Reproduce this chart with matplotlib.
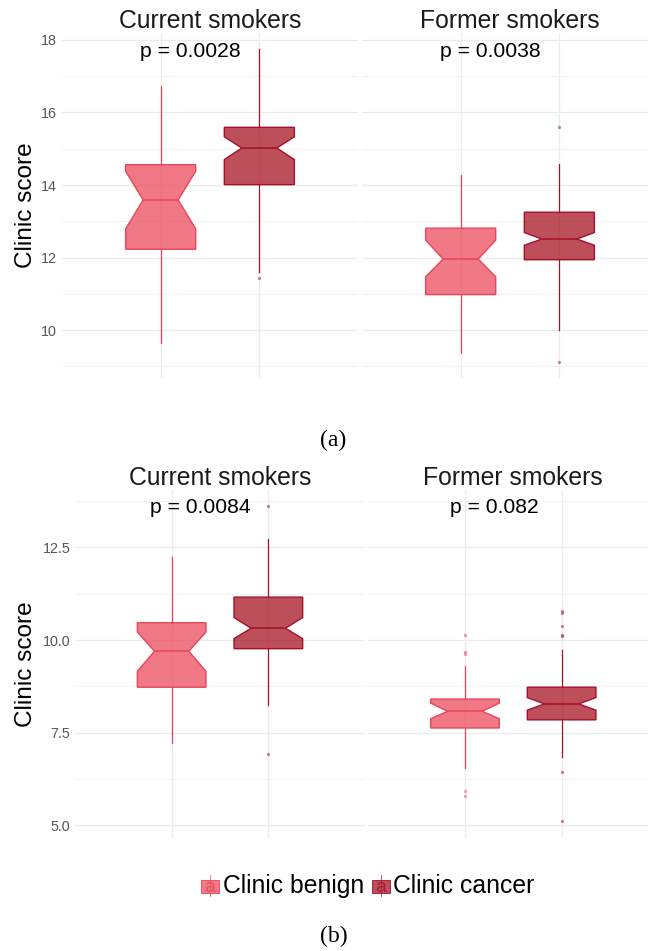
import matplotlib
matplotlib.use("Agg")
import matplotlib.pyplot as plt
from matplotlib.patches import Rectangle
from matplotlib.lines import Line2D
from matplotlib.ticker import FixedLocator, FormatStrFormatter

W, H = 648, 951

groups = ["Current smokers", "Former smokers"]
classes = ["Clinic benign", "Clinic cancer"]
class_fill = ["#EB4051", "#A10416"]
class_edge = ["#E8455A", "#A50F2A"]

# Panel (a) box statistics, per facet: [benign, cancer]
a_p_text = ["p = 0.0028", "p = 0.0038"]
a_whislo = [[9.65, 11.61], [9.36, 10.00]]
a_q1 = [[12.23, 14.01], [10.98, 11.94]]
a_ci_lo = [[12.79, 14.70], [11.47, 12.34]]
a_med = [[13.59, 15.02], [11.96, 12.51]]
a_ci_hi = [[14.38, 15.33], [12.48, 12.69]]
a_q3 = [[14.56, 15.59], [12.81, 13.25]]
a_whishi = [[16.73, 17.75], [14.28, 14.57]]
a_fliers = [[[], [11.43]], [[], [15.61, 9.13]]]
a_major = [10, 12, 14, 16, 18]
a_minor = [9, 11, 13, 15, 17]
a_ylim = (8.68, 18.19)
a_p_y = 17.52

# Panel (b) box statistics
b_p_text = ["p = 0.0084", "p = 0.082"]
b_whislo = [[7.22, 8.24], [6.55, 6.84]]
b_q1 = [[8.73, 9.77], [7.63, 7.85]]
b_ci_lo = [[9.16, 10.04], [7.88, 8.11]]
b_med = [[9.70, 10.32], [8.08, 8.28]]
b_ci_hi = [[10.22, 10.61], [8.30, 8.45]]
b_q3 = [[10.47, 11.16], [8.41, 8.73]]
b_whishi = [[12.23, 12.72], [9.31, 9.74]]
b_fliers = [[[], [13.63, 6.93]],
            [[10.14, 9.68, 9.62, 5.92, 5.80],
             [10.78, 10.73, 10.39, 10.13, 10.10, 6.45, 5.12]]]
b_major = [5.0, 7.5, 10.0, 12.5]
b_minor = [6.25, 8.75, 11.25, 13.75]
b_ylim = (4.67, 14.05)
b_p_y = 13.43

plt.rcParams["font.family"] = ["Liberation Sans", "DejaVu Sans"]
fig = plt.figure(figsize=(W / 100, H / 100), dpi=100)


def px_axes(x0, y0, x1, y1):
    return fig.add_axes([x0 / W, 1 - y1 / H, (x1 - x0) / W, (y1 - y0) / H])


def draw_facet(ax, g, whislo, q1, ci_lo, med, ci_hi, q3, whishi, fliers,
               major, minor, ylim, fmt, p_text, p_y, show_y):
    ax.set_facecolor("white")
    for s in ax.spines.values():
        s.set_visible(False)
    ax.set_axisbelow(True)
    ax.set_xlim(0, 3)
    ax.set_ylim(*ylim)
    ax.xaxis.set_major_locator(FixedLocator([1, 2]))
    ax.yaxis.set_major_locator(FixedLocator(major))
    ax.yaxis.set_minor_locator(FixedLocator(minor))
    ax.yaxis.set_major_formatter(FormatStrFormatter(fmt))
    ax.grid(True, which="major", color="#EBEBEB", lw=0.9)
    ax.grid(True, which="minor", axis="y", color="#F2F2F2", lw=0.7)
    ax.tick_params(axis="x", length=0, labelbottom=False)
    ax.tick_params(axis="y", which="both", length=0, labelsize=10.3,
                   labelcolor="#555555", pad=3.5, labelleft=show_y)
    for k in range(2):
        stats = [dict(whislo=whislo[g][k], q1=q1[g][k], cilo=ci_lo[g][k],
                      med=med[g][k], cihi=ci_hi[g][k], q3=q3[g][k],
                      whishi=whishi[g][k], fliers=fliers[g][k])]
        ax.bxp(stats, positions=[k + 1], widths=0.71, shownotches=True,
               showcaps=False, patch_artist=True, manage_ticks=False,
               boxprops=dict(facecolor=class_fill[k] + "B3",
                             edgecolor=class_edge[k], linewidth=1.0),
               medianprops=dict(color=class_edge[k], linewidth=1.1),
               whiskerprops=dict(color=class_edge[k], linewidth=0.9),
               flierprops=dict(marker="o", markersize=2.4,
                               markerfacecolor=class_edge[k],
                               markeredgecolor="none", alpha=0.5))
    ax.text(1.3, p_y, p_text[g], ha="center", va="baseline", fontsize=15.2,
            color="black")


# (a)
for g, box in enumerate([(62, 33, 358, 378), (362, 33, 658, 378)]):
    ax = px_axes(*box)
    draw_facet(ax, g, a_whislo, a_q1, a_ci_lo, a_med, a_ci_hi, a_q3, a_whishi,
               a_fliers, a_major, a_minor, a_ylim, "%g", a_p_text, a_p_y, g == 0)
    fig.text(((box[0] + box[2]) / 2) / W, 1 - 28.3 / H, groups[g],
             ha="center", va="baseline", fontsize=17.8, color="#1A1A1A")

# (b)
for g, box in enumerate([(75, 490, 365, 837.7), (368.3, 490, 658.3, 837.7)]):
    ax = px_axes(*box)
    draw_facet(ax, g, b_whislo, b_q1, b_ci_lo, b_med, b_ci_hi, b_q3, b_whishi,
               b_fliers, b_major, b_minor, b_ylim, "%.1f", b_p_text, b_p_y, g == 0)
    fig.text(((box[0] + box[2]) / 2) / W, 1 - 485 / H, groups[g],
             ha="center", va="baseline", fontsize=17.8, color="#1A1A1A")

for yc in (205.5, 664):
    fig.text(26.5 / W, 1 - yc / H, "Clinic score", rotation=90, ha="center",
             va="center", fontsize=17.6, color="black")

# captions
serif = ["Liberation Serif", "DejaVu Serif"]
fig.text(333.5 / W, 1 - 440 / H, "(a)", ha="center", va="center",
         fontsize=17, family=serif)
fig.text(333.5 / W, 1 - 936 / H, "(b)", ha="center", va="center",
         fontsize=17, family=serif)

# legend
lg = fig.add_axes([0, 0, 1, 1], facecolor="none")
lg.set_xlim(0, W)
lg.set_ylim(H, 0)
lg.axis("off")
key_x = [200.5, 371.5]
text_x = [223.3, 393.3]
yc = 885
for k in range(2):
    x0 = key_x[k]
    lg.add_line(Line2D([x0 + 9, x0 + 9], [875, 896],
                       color=class_edge[k], lw=0.6, alpha=0.8))
    lg.add_patch(Rectangle((x0, 879.5), 18, 13.5,
                           facecolor=class_fill[k] + "B3",
                           edgecolor=class_edge[k], lw=0.6))
    lg.text(x0 + 9, 892.5, "a", ha="center", va="baseline", fontsize=14,
            color=class_edge[k], alpha=0.75)
    lg.text(text_x[k], yc + 1, classes[k], ha="left", va="center",
            fontsize=17.8, color="black")

fig.savefig("out.png", dpi=100, facecolor="white")
